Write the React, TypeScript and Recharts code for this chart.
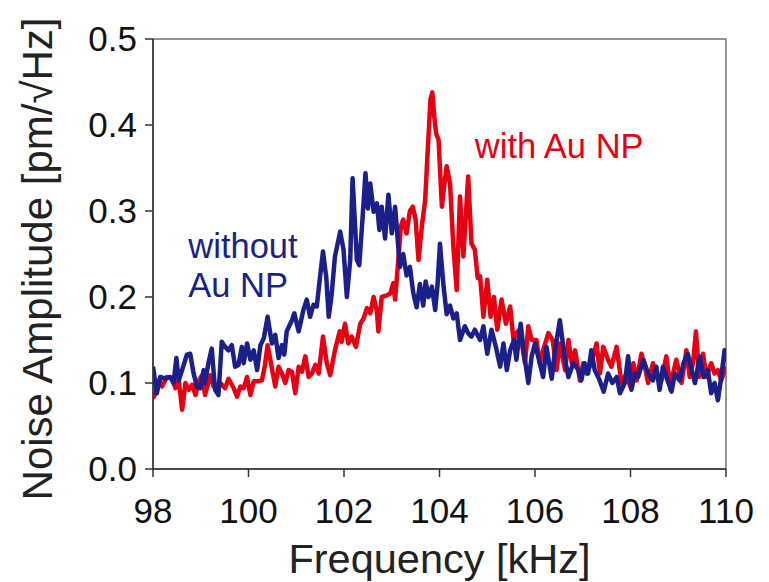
import React from 'react';
import { LineChart, Line, XAxis, YAxis, ReferenceArea, ReferenceDot } from 'recharts';

const xTicks = [98, 100, 102, 104, 106, 108, 110];
const yTicks = [0, 0.1, 0.2, 0.3, 0.4, 0.5];

const blueFreq = [
  98.0, 98.08, 98.15, 98.26, 98.36, 98.43, 98.49, 98.54, 98.61, 98.71, 98.78, 98.85, 98.92, 98.99,
  99.06, 99.09, 99.16, 99.23, 99.3, 99.37, 99.44, 99.51, 99.58, 99.65, 99.72, 99.79, 99.86, 99.9, 99.97,
  100.04, 100.11, 100.18, 100.25, 100.32, 100.4, 100.49, 100.56, 100.63, 100.7, 100.75, 100.8, 100.91, 100.96,
  101.05, 101.15, 101.22, 101.29, 101.36, 101.43, 101.5, 101.56, 101.63, 101.68, 101.74, 101.81, 101.92, 101.99,
  102.06, 102.13, 102.18, 102.27, 102.32, 102.39, 102.45, 102.5, 102.55, 102.62, 102.69, 102.74, 102.79, 102.86, 102.93,
  103.0, 103.07, 103.12, 103.17, 103.24, 103.31, 103.38, 103.45, 103.52, 103.59, 103.66, 103.71, 103.77, 103.84, 103.91, 103.96,
  104.01, 104.08, 104.15, 104.22, 104.29, 104.36, 104.43, 104.53, 104.6, 104.67, 104.74, 104.85, 104.92,
  105.0, 105.09, 105.18, 105.27, 105.34, 105.41, 105.48, 105.56, 105.61, 105.7, 105.77, 105.86, 105.93,
  106.0, 106.1, 106.17, 106.24, 106.35, 106.42, 106.52, 106.63, 106.7, 106.8, 106.91, 106.97,
  107.04, 107.11, 107.18, 107.25, 107.34, 107.44, 107.53, 107.62, 107.71, 107.78, 107.88, 107.95,
  108.02, 108.09, 108.16, 108.27, 108.37, 108.47, 108.54, 108.61, 108.68, 108.75, 108.86, 108.93,
  109.03, 109.11, 109.2, 109.28, 109.35, 109.45, 109.53, 109.62, 109.69, 109.76, 109.83, 109.9, 109.97, 110.0,
];
const blueAmp = [
  0.119, 0.088, 0.107, 0.105, 0.107, 0.1, 0.129, 0.103, 0.115, 0.133, 0.134, 0.111, 0.096, 0.094,
  0.115, 0.1, 0.123, 0.14, 0.092, 0.086, 0.148, 0.142, 0.138, 0.144, 0.119, 0.121, 0.142, 0.123, 0.146,
  0.127, 0.138, 0.115, 0.144, 0.152, 0.177, 0.146, 0.156, 0.129, 0.144, 0.133, 0.16, 0.173, 0.181,
  0.16, 0.185, 0.197, 0.177, 0.191, 0.189, 0.224, 0.253, 0.222, 0.177, 0.202, 0.247, 0.276, 0.255,
  0.2, 0.243, 0.338, 0.243, 0.237, 0.293, 0.344, 0.303, 0.332, 0.299, 0.309, 0.278, 0.305, 0.268, 0.319,
  0.274, 0.305, 0.27, 0.235, 0.25, 0.225, 0.235, 0.205, 0.188, 0.215, 0.19, 0.218, 0.2, 0.212, 0.185, 0.215,
  0.262, 0.215, 0.18, 0.19, 0.175, 0.181, 0.15, 0.166, 0.158, 0.154, 0.162, 0.15, 0.166,
  0.134, 0.162, 0.142, 0.119, 0.146, 0.115, 0.138, 0.15, 0.127, 0.169, 0.134, 0.1, 0.131,
  0.146, 0.123, 0.107, 0.142, 0.105, 0.138, 0.173, 0.127, 0.107, 0.123, 0.115, 0.103,
  0.123, 0.111, 0.138, 0.115, 0.105, 0.09, 0.111, 0.1, 0.107, 0.088, 0.1, 0.131,
  0.092, 0.111, 0.107, 0.127, 0.111, 0.103, 0.119, 0.092, 0.119, 0.107, 0.09, 0.111,
  0.103, 0.123, 0.134, 0.115, 0.1, 0.131, 0.107, 0.115, 0.088, 0.1, 0.08, 0.107, 0.138, 0.125,
];

const redFreq = [
  98.0, 98.05, 98.12, 98.19, 98.29, 98.4, 98.47, 98.54, 98.61, 98.68, 98.75, 98.82, 98.89, 98.96,
  99.03, 99.09, 99.2, 99.27, 99.41, 99.51, 99.58, 99.69, 99.76, 99.83, 99.9, 99.97,
  100.04, 100.11, 100.21, 100.28, 100.34, 100.4, 100.47, 100.56, 100.63, 100.7, 100.77, 100.84, 100.91, 100.98,
  101.05, 101.12, 101.19, 101.26, 101.33, 101.4, 101.47, 101.56, 101.64, 101.71, 101.81, 101.91, 101.95,
  102.02, 102.09, 102.16, 102.25, 102.34, 102.41, 102.48, 102.55, 102.62, 102.69, 102.72, 102.79, 102.9, 102.97,
  103.03, 103.07, 103.14, 103.19, 103.24, 103.31, 103.38, 103.44, 103.5, 103.56, 103.63, 103.7, 103.75, 103.81,
  103.85, 103.89, 103.93, 103.98, 104.05, 104.1, 104.15, 104.22, 104.29, 104.36, 104.43, 104.5, 104.6, 104.67,
  104.74, 104.8, 104.85, 104.92, 105.0, 105.07, 105.14, 105.21, 105.3, 105.39, 105.48, 105.55, 105.61, 105.68,
  105.79, 105.86, 105.93, 106.03, 106.1, 106.17, 106.28, 106.37, 106.45, 106.52, 106.63, 106.7, 106.77, 106.84,
  106.94, 107.01, 107.08, 107.18, 107.29, 107.36, 107.43, 107.53, 107.6, 107.71, 107.81, 107.92, 107.99,
  108.06, 108.13, 108.23, 108.3, 108.37, 108.47, 108.54, 108.65, 108.75, 108.84, 108.89, 108.96,
  109.07, 109.17, 109.24, 109.31, 109.37, 109.44, 109.52, 109.59, 109.69, 109.76, 109.83, 109.9, 110.0,
];
const redAmp = [
  0.082, 0.088, 0.103, 0.096, 0.107, 0.105, 0.094, 0.103, 0.069, 0.1, 0.092, 0.098, 0.086, 0.103,
  0.109, 0.086, 0.109, 0.096, 0.1, 0.094, 0.105, 0.094, 0.084, 0.096, 0.094, 0.107,
  0.086, 0.102, 0.102, 0.103, 0.119, 0.144, 0.123, 0.096, 0.119, 0.111, 0.1, 0.115, 0.113, 0.088,
  0.119, 0.113, 0.131, 0.107, 0.111, 0.121, 0.111, 0.154, 0.123, 0.109, 0.138, 0.16, 0.148,
  0.169, 0.146, 0.154, 0.142, 0.169, 0.175, 0.187, 0.181, 0.2, 0.183, 0.16, 0.2, 0.202, 0.204,
  0.216, 0.197, 0.245, 0.282, 0.29, 0.274, 0.3, 0.305, 0.29, 0.243, 0.282, 0.313, 0.367, 0.429,
  0.438, 0.41, 0.39, 0.383, 0.305, 0.33, 0.352, 0.332, 0.259, 0.208, 0.317, 0.247, 0.34, 0.262,
  0.255, 0.222, 0.224, 0.177, 0.22, 0.177, 0.2, 0.162, 0.197, 0.169, 0.189, 0.15, 0.158, 0.162,
  0.123, 0.166, 0.15, 0.15, 0.123, 0.138, 0.158, 0.15, 0.115, 0.146, 0.115, 0.15, 0.123, 0.138,
  0.103, 0.123, 0.111, 0.123, 0.146, 0.111, 0.142, 0.127, 0.119, 0.142, 0.1, 0.111, 0.096,
  0.123, 0.103, 0.134, 0.119, 0.1, 0.123, 0.107, 0.103, 0.131, 0.092, 0.111, 0.127,
  0.1, 0.138, 0.107, 0.123, 0.16, 0.107, 0.134, 0.107, 0.123, 0.111, 0.115, 0.103, 0.119,
];

const blueData = blueFreq.map((f, i) => ({ f, v: blueAmp[i] }));
const redData = redFreq.map((f, i) => ({ f, v: redAmp[i] }));

const FONT = '"Liberation Sans", Arial, Helvetica, sans-serif';
const RED = '#e60012';
const BLUE = '#1b1f8a';

const makeLabel = (lines: string[], color: string, lineGap: number) => (props: any) => {
  const vb = props.viewBox || {};
  const x = vb.x + (vb.width || 0) / 2;
  const y = vb.y + (vb.height || 0) / 2;
  return (
    <text x={x} y={y} fill={color} fontSize={34.5} fontFamily={FONT} textAnchor="start">
      {lines.map((l, i) => (
        <tspan key={i} x={x} dy={i === 0 ? 0 : lineGap}>
          {l}
        </tspan>
      ))}
    </text>
  );
};

export default function App() {
  return (
    <div style={{ position: 'absolute', left: 0, top: 0, width: 769, height: 582, background: '#fff' }}>
      <LineChart
        width={769}
        height={582}
        margin={{ top: 39, right: 43, bottom: 0, left: 0 }}
      >
        <ReferenceArea x1={98} x2={110} y1={0} y2={0.5} fill="none" stroke="#707070" strokeWidth={1.5} />
        <XAxis
          dataKey="f"
          type="number"
          domain={[98, 110]}
          ticks={xTicks}
          allowDataOverflow
          height={113}
          tickSize={8}
          tickMargin={21}
          axisLine={{ stroke: '#333', strokeWidth: 1.5 }}
          tickLine={{ stroke: '#333', strokeWidth: 1.5 }}
          tick={{ fontSize: 35, fill: '#111', fontFamily: FONT }}
          label={{
            content: (p: any) => {
              const vb = p.viewBox;
              return (
                <text x={vb.x + vb.width / 2} y={573} textAnchor="middle" fontSize={41.5} fill="#222" fontFamily={FONT}>
                  Frequency [kHz]
                </text>
              );
            },
          }}
        />
        <YAxis
          type="number"
          domain={[0, 0.5]}
          ticks={yTicks}
          allowDataOverflow
          width={153}
          tickSize={8}
          tickMargin={8}
          axisLine={{ stroke: '#333', strokeWidth: 1.5 }}
          tickLine={{ stroke: '#333', strokeWidth: 1.5 }}
          tick={{ fontSize: 35, fill: '#111', fontFamily: FONT }}
          tickFormatter={(v: number) => v.toFixed(1)}
          label={{
            content: (p: any) => {
              const vb = p.viewBox;
              const cy = vb.y + vb.height / 2 + 5;
              return (
                <text
                  x={52}
                  y={cy}
                  transform={`rotate(-90 52 ${cy})`}
                  textAnchor="middle"
                  fontSize={42}
                  fill="#222"
                  fontFamily={FONT}
                >
                  Noise Amplitude [pm/√Hz]
                </text>
              );
            },
          }}
        />
        <Line
          data={redData}
          dataKey="v"
          type="linear"
          stroke={RED}
          strokeWidth={4.5}
          dot={false}
          isAnimationActive={false}
          strokeLinejoin="round"
        />
        <Line
          data={blueData}
          dataKey="v"
          type="linear"
          stroke={BLUE}
          strokeWidth={4.5}
          dot={false}
          isAnimationActive={false}
          strokeLinejoin="round"
        />
        <ReferenceDot x={104.74} y={0.362} r={0} fill="none" stroke="none" label={{ content: makeLabel(['with Au NP'], RED, 0) }} />
        <ReferenceDot x={98.74} y={0.245} r={0} fill="none" stroke="none" label={{ content: makeLabel(['without', 'Au NP'], BLUE, 39) }} />
      </LineChart>
    </div>
  );
}
